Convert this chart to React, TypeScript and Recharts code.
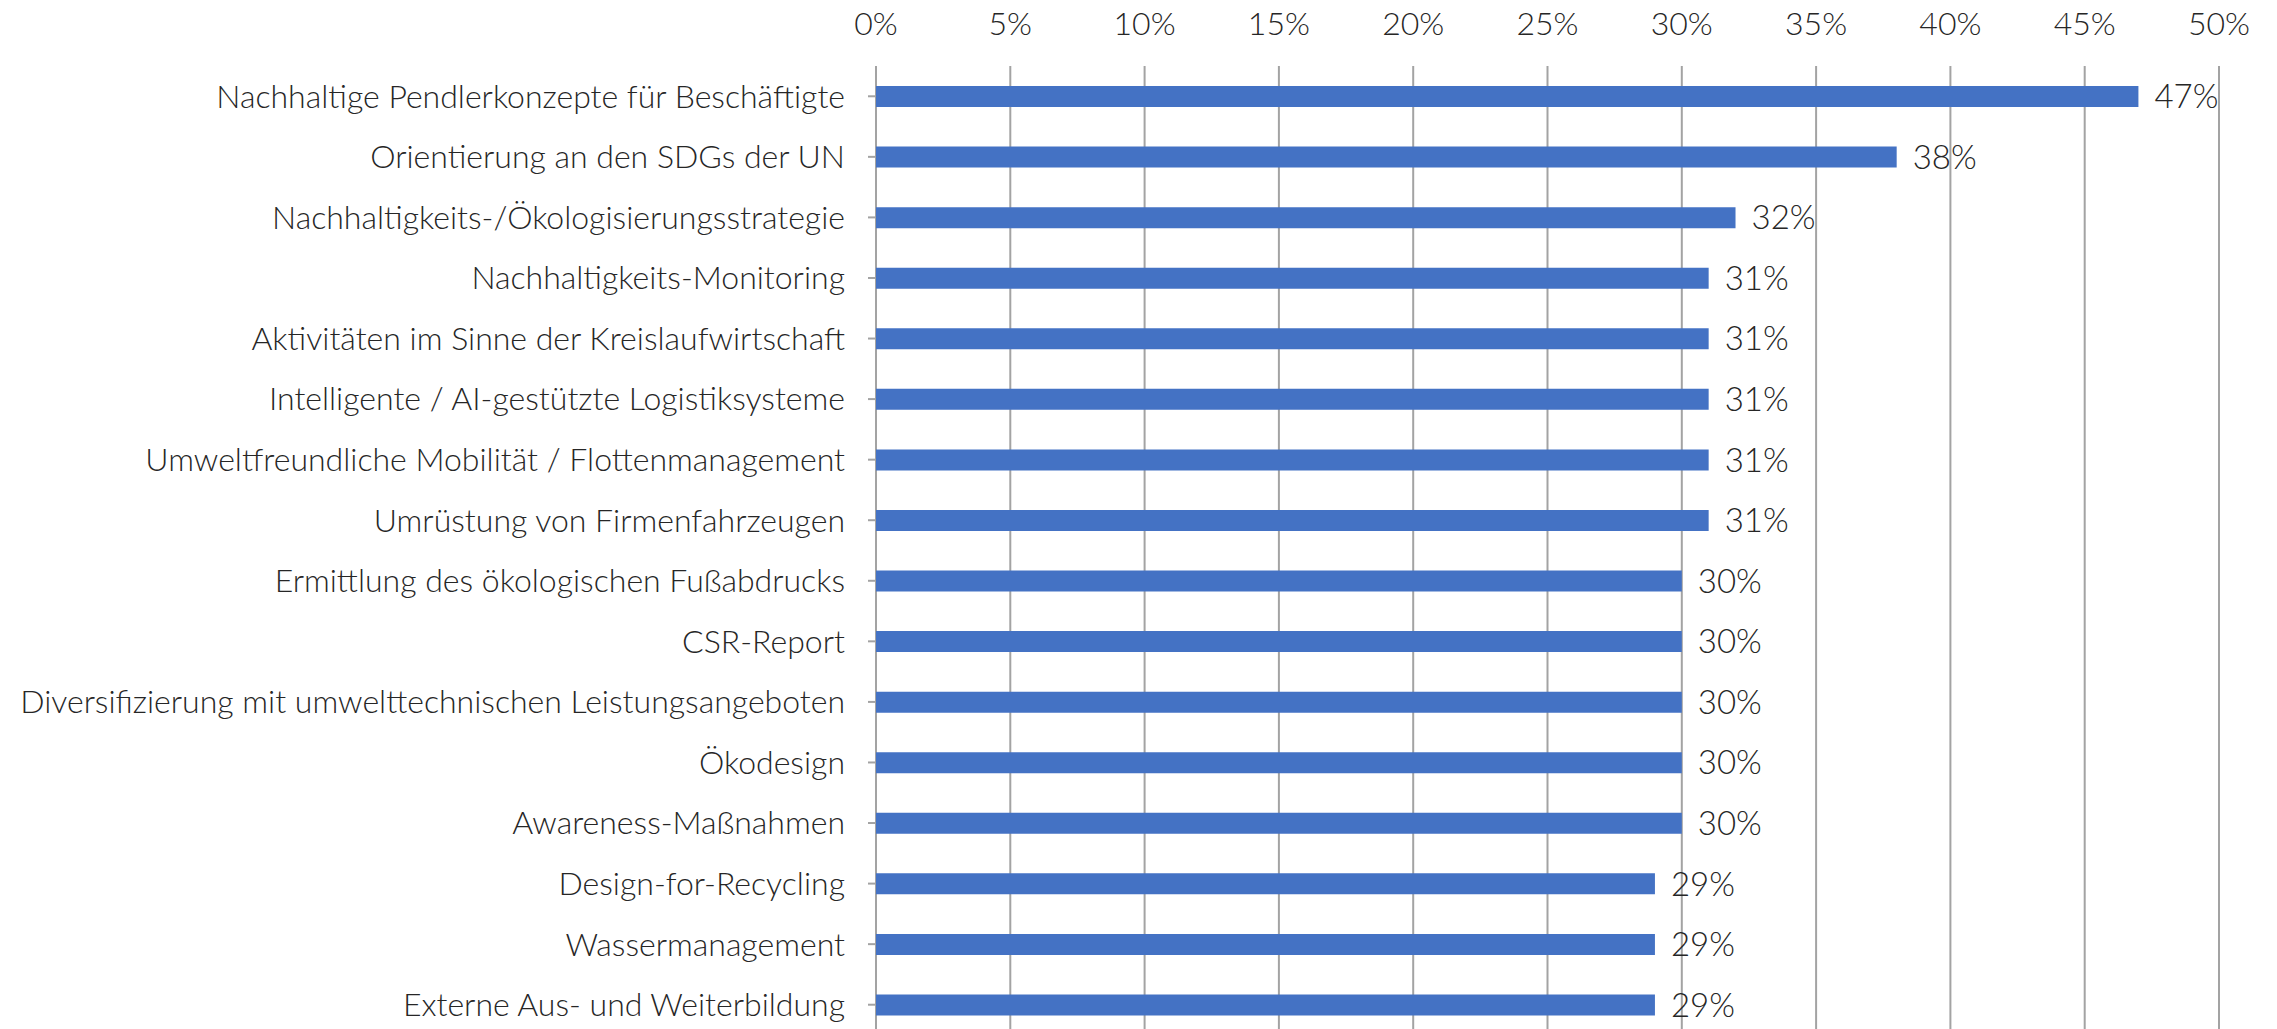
import { BarChart, Bar, XAxis, YAxis, CartesianGrid, LabelList } from 'recharts';

const categories = [
  'Nachhaltige Pendlerkonzepte für Beschäftigte',
  'Orientierung an den SDGs der UN',
  'Nachhaltigkeits-/Ökologisierungsstrategie',
  'Nachhaltigkeits-Monitoring',
  'Aktivitäten im Sinne der Kreislaufwirtschaft',
  'Intelligente / AI-gestützte Logistiksysteme',
  'Umweltfreundliche Mobilität / Flottenmanagement',
  'Umrüstung von Firmenfahrzeugen',
  'Ermittlung des ökologischen Fußabdrucks',
  'CSR-Report',
  'Diversifizierung mit umwelttechnischen Leistungsangeboten',
  'Ökodesign',
  'Awareness-Maßnahmen',
  'Design-for-Recycling',
  'Wassermanagement',
  'Externe Aus- und Weiterbildung',
];

const shares = [47, 38, 32, 31, 31, 31, 31, 31, 30, 30, 30, 30, 30, 29, 29, 29];

const xTicks = [0, 5, 10, 15, 20, 25, 30, 35, 40, 45, 50];

const data = categories.map((name, i) => ({ name, value: shares[i] }));

const font = { fontFamily: 'Lato, "Open Sans", sans-serif', fontWeight: 300, fontSize: 32, fill: '#262626' };
const valueFont = { ...font, fontSize: 33 };

export default function App() {
  return (
    <div style={{ position: 'absolute', left: 0, top: 0 }}>
      <BarChart
        width={2277}
        height={1035}
        data={data}
        layout="vertical"
        margin={{ top: 0, right: 58, bottom: 0, left: 0 }}
      >
        <CartesianGrid horizontal={false} stroke="#a3a3a3" strokeWidth={2} />
        <XAxis
          type="number"
          orientation="top"
          domain={[0, 50]}
          ticks={xTicks}
          tickFormatter={(v: number) => `${v}%`}
          axisLine={false}
          tickLine={false}
          tickSize={0}
          tickMargin={31}
          height={66}
          tick={font}
        />
        <YAxis
          type="category"
          dataKey="name"
          width={876}
          axisLine={false}
          tickLine={{ stroke: '#a3a3a3', strokeWidth: 2 }}
          tickSize={8}
          tickMargin={23}
          interval={0}
          tick={font}
        />
        <Bar dataKey="value" fill="#4472C4" barSize={21} isAnimationActive={false}>
          <LabelList
            dataKey="value"
            position="right"
            offset={16}
            formatter={(v: any) => `${v}%`}
            style={valueFont}
          />
        </Bar>
      </BarChart>
    </div>
  );
}
